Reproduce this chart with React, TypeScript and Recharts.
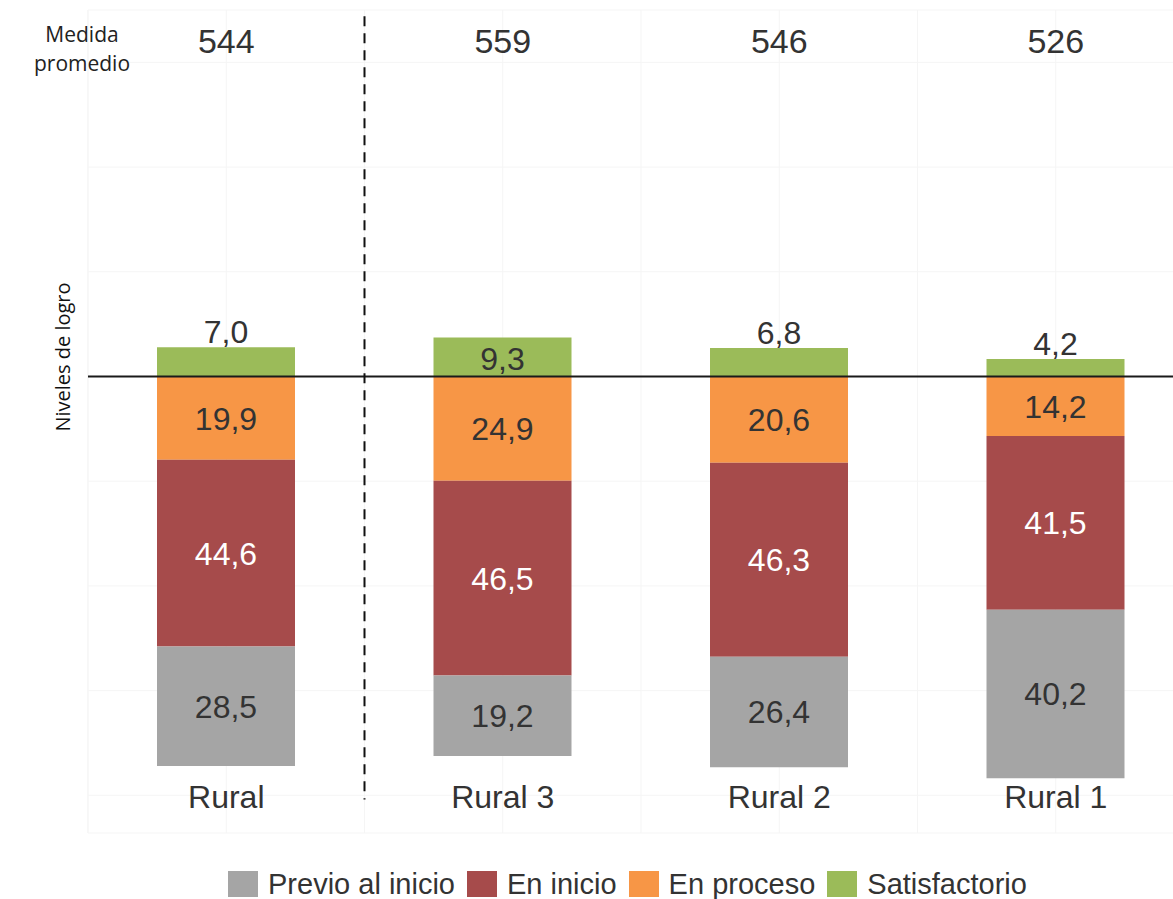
import React from "react";
import {
  BarChart,
  Bar,
  XAxis,
  YAxis,
  CartesianGrid,
  ReferenceLine,
  ReferenceDot,
  LabelList,
  Legend,
} from "recharts";

const categorias = ["Rural", "Rural 3", "Rural 2", "Rural 1"];
const medidaPromedio = [544, 559, 546, 526];
const previoAlInicio = [28.5, 19.2, 26.4, 40.2];
const enInicio = [44.6, 46.5, 46.3, 41.5];
const enProceso = [19.9, 24.9, 20.6, 14.2];
const satisfactorio = [7.0, 9.3, 6.8, 4.2];
const gridTicksY = [-100, -75, -50, -25, 0, 25, 50, 75];

const FONT = '"Liberation Sans", Arial, Helvetica, sans-serif';
const TEXT = "#333333";
const GRID = "#f5f5f5";

const niveles = [
  { key: "previo", name: "Previo al inicio", color: "#a5a5a5" },
  { key: "inicio", name: "En inicio", color: "#a64b4b" },
  { key: "proceso", name: "En proceso", color: "#f79646" },
  { key: "satisfactorio", name: "Satisfactorio", color: "#9bbb59" },
];

const data = categorias.map((name, i) => ({
  name,
  previo: -previoAlInicio[i],
  inicio: -enInicio[i],
  proceso: -enProceso[i],
  satisfactorio: satisfactorio[i],
}));

const fmt = (v: unknown) => Math.abs(Number(v)).toFixed(1).replace(".", ",");

const SatLabel = (props: any) => {
  const { x, y, width, height, value } = props;
  const v = Number(value);
  const inside = v >= 8;
  const cx = Number(x) + Number(width) / 2;
  const ty = inside ? Number(y) + Number(height) / 2 + 2 : Number(y) - 4;
  return (
    <text
      x={cx}
      y={ty}
      textAnchor="middle"
      dominantBaseline={inside ? "central" : "auto"}
      fontSize={32}
      fontFamily={FONT}
      fill={TEXT}
    >
      {fmt(v)}
    </text>
  );
};

const CategoryTick = (props: any) => (
  <text
    x={props.x}
    y={props.y - 33}
    textAnchor="middle"
    fontSize={32}
    fontFamily={FONT}
    fill={TEXT}
  >
    {props.payload.value}
  </text>
);

const LegendContent = () => (
  <div
    style={{
      display: "flex",
      alignItems: "center",
      fontFamily: FONT,
      fontSize: 29,
      color: TEXT,
      whiteSpace: "nowrap",
      lineHeight: "28px",
      height: 28,
    }}
  >
    {niveles.map((n) => (
      <div key={n.key} style={{ display: "flex", alignItems: "center", marginRight: 12, flexShrink: 0 }}>
        <span style={{ width: 30, height: 26, background: n.color, marginRight: 10, display: "inline-block" }} />
        <span>{n.name}</span>
      </div>
    ))}
  </div>
);

export default function App() {
  return (
    <div
      style={{
        position: "absolute",
        left: 0,
        top: 0,
        width: 1173,
        height: 899,
        overflow: "hidden",
        background: "#ffffff",
      }}
    >
      <BarChart
        width={1200}
        height={899}
        data={data}
        stackOffset="sign"
        margin={{ top: 10, right: 6, left: 88, bottom: 36 }}
        barSize={138}
      >
        <CartesianGrid stroke={GRID} strokeWidth={1} />
        {categorias.map((c) => (
          <ReferenceLine key={"b" + c} x={c} position="start" stroke={GRID} strokeWidth={1} />
        ))}
        <XAxis dataKey="name" height={30} axisLine={false} tickLine={false} tick={<CategoryTick />} interval={0} />
        <YAxis hide type="number" domain={[-109, 87.5]} ticks={gridTicksY} allowDataOverflow />
        <Bar dataKey="proceso" stackId="a" fill="#f79646" isAnimationActive={false}>
          <LabelList dataKey="proceso" position="center" formatter={fmt} fill={TEXT} fontSize={32} fontFamily={FONT} />
        </Bar>
        <Bar dataKey="inicio" stackId="a" fill="#a64b4b" isAnimationActive={false}>
          <LabelList dataKey="inicio" position="center" formatter={fmt} fill="#ffffff" fontSize={32} fontFamily={FONT} />
        </Bar>
        <Bar dataKey="previo" stackId="a" fill="#a5a5a5" isAnimationActive={false}>
          <LabelList dataKey="previo" position="center" formatter={fmt} fill={TEXT} fontSize={32} fontFamily={FONT} />
        </Bar>
        <Bar dataKey="satisfactorio" stackId="a" fill="#9bbb59" isAnimationActive={false}>
          <LabelList dataKey="satisfactorio" content={<SatLabel />} />
        </Bar>
        <ReferenceLine y={0} stroke="#1a1a1a" strokeWidth={2} />
        <ReferenceLine
          position="end"
          segment={[
            { x: categorias[0], y: 86 },
            { x: categorias[0], y: -101 },
          ]}
          stroke="#111111"
          strokeWidth={2}
          strokeDasharray="10 7"
        />
        {categorias.map((c, i) => (
          <ReferenceDot
            key={c}
            x={c}
            y={80}
            r={0}
            fill="none"
            stroke="none"
            label={{ value: String(medidaPromedio[i]), position: "center", fontSize: 34, fill: TEXT, fontFamily: FONT }}
          />
        ))}
        <Legend
          layout="horizontal"
          verticalAlign="middle"
          align="center"
          content={<LegendContent />}
          wrapperStyle={{ left: 228, top: 870, width: 880, height: 28 }}
        />
      </BarChart>
      <div
        style={{
          position: "absolute",
          left: 22,
          top: 20,
          width: 120,
          textAlign: "center",
          fontFamily: '"Open Sans", sans-serif',
          fontSize: 21,
          lineHeight: "29px",
          color: "#222",
        }}
      >
        Medida
        <br />
        promedio
      </div>
      <div
        style={{
          position: "absolute",
          left: 62,
          top: 357,
          transform: "translate(-50%, -50%) rotate(-90deg)",
          whiteSpace: "nowrap",
          fontFamily: '"Open Sans", sans-serif',
          fontSize: 20,
          color: "#111",
        }}
      >
        Niveles de logro
      </div>
    </div>
  );
}
